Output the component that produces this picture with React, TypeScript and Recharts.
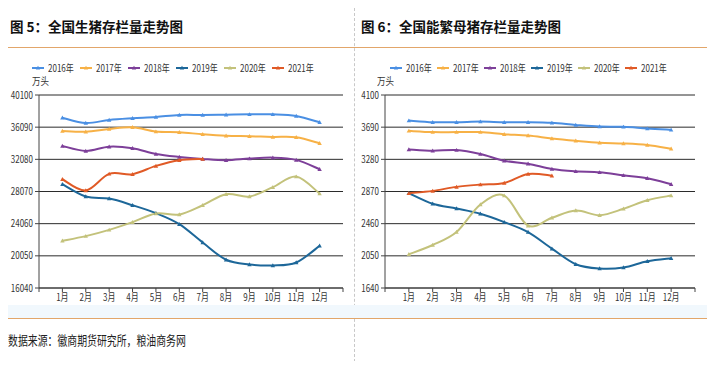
import React from "react";
import { LineChart, Line, XAxis, YAxis, CartesianGrid } from "recharts";

const months = ["1月", "2月", "3月", "4月", "5月", "6月", "7月", "8月", "9月", "10月", "11月", "12月"];
const years = ["2016年", "2017年", "2018年", "2019年", "2020年", "2021年"];
const colors = ["#4a8fe3", "#f7b146", "#7d3f99", "#1d6799", "#c3c27b", "#e05a26"];

// 全国生猪存栏 (万头)
const hog2016 = [37270, 36610, 36990, 37200, 37360, 37610, 37610, 37650, 37690, 37690, 37490, 36700];
const hog2017 = [35620, 35530, 35870, 36080, 35540, 35450, 35210, 35030, 34960, 34870, 34830, 34090];
const hog2018 = [33750, 33130, 33660, 33460, 32750, 32380, 32130, 31970, 32170, 32290, 32010, 30850];
const hog2019 = [28980, 27440, 27190, 26360, 25370, 24000, 21710, 19560, 18970, 18850, 19220, 21300];
const hog2020 = [21930, 22510, 23290, 24250, 25320, 25200, 26360, 27730, 27440, 28610, 29930, 27810];
const hog2021 = [29600, 28190, 30270, 30230, 31260, 31970, 32130];
const hogTicks = [16040, 20050, 24060, 28070, 32080, 36090, 40100];

// 全国能繁母猪存栏 (万头)
const sow2016 = [3774, 3753, 3753, 3761, 3753, 3753, 3745, 3719, 3698, 3694, 3672, 3656];
const sow2017 = [3643, 3627, 3627, 3627, 3601, 3584, 3546, 3516, 3491, 3482, 3462, 3415];
const sow2018 = [3406, 3389, 3398, 3347, 3262, 3224, 3157, 3127, 3114, 3076, 3038, 2962];
const sow2019 = [2848, 2713, 2653, 2586, 2480, 2353, 2142, 1943, 1888, 1901, 1981, 2019];
const sow2020 = [2070, 2188, 2353, 2704, 2818, 2435, 2535, 2628, 2568, 2650, 2759, 2818];
const sow2021 = [2848, 2878, 2929, 2958, 2979, 3094, 3072];
const sowTicks = [1640, 2050, 2460, 2870, 3280, 3690, 4100];

const xTicks = [0, 1, 2, 3, 4, 5, 6, 7, 8, 9, 10, 11, 12, 13];

function buildRows(series: number[][]) {
  return months.map((m, i) => {
    const row: Record<string, number | string | null> = { x: i + 1, month: m };
    series.forEach((s, k) => {
      row["y" + k] = i < s.length ? s[i] : null;
    });
    return row;
  });
}

const hogRows = buildRows([hog2016, hog2017, hog2018, hog2019, hog2020, hog2021]);
const sowRows = buildRows([sow2016, sow2017, sow2018, sow2019, sow2020, sow2021]);

// Catmull-Rom style smoothing similar to spreadsheet smoothed lines
function smoothCurve(context: any) {
  let pts: number[][] = [];
  return {
    areaStart() {},
    areaEnd() {},
    lineStart() {
      pts = [];
    },
    lineEnd() {
      if (!pts.length) return;
      context.moveTo(pts[0][0], pts[0][1]);
      for (let i = 0; i < pts.length - 1; i++) {
        const p0 = pts[i - 1] || pts[i];
        const p1 = pts[i];
        const p2 = pts[i + 1];
        const p3 = pts[i + 2] || p2;
        const t = 6;
        context.bezierCurveTo(
          p1[0] + (p2[0] - p0[0]) / t,
          p1[1] + (p2[1] - p0[1]) / t,
          p2[0] - (p3[0] - p1[0]) / t,
          p2[1] - (p3[1] - p1[1]) / t,
          p2[0],
          p2[1]
        );
      }
    },
    point(x: number, y: number) {
      pts.push([+x, +y]);
    },
  };
}

const FONT = "'Noto Sans CJK SC', 'Noto Sans', sans-serif";

const YTick = (props: any) => {
  const { x, y, payload } = props;
  return (
    <g transform={`translate(${x},${y})`}>
      <text transform="scale(0.8,1)" textAnchor="end" dy={3.5} fontSize={10} fill="#333" fontFamily={FONT}>
        {payload.value}
      </text>
    </g>
  );
};

const XTick = (props: any) => {
  const { x, y, payload } = props;
  const v = payload.value;
  if (v < 1 || v > 12) return null;
  return (
    <g transform={`translate(${x},${y})`}>
      <text transform="scale(0.8,1)" textAnchor="middle" dy={7} fontSize={10} fill="#333" fontFamily={FONT}>
        {months[v - 1]}
      </text>
    </g>
  );
};

const TriDot = (props: any) => {
  const { cx, cy, stroke } = props;
  if (cx == null || cy == null || isNaN(cy)) return null;
  const s = 2.2;
  return <path d={`M${cx},${cy - s} L${cx + s},${cy + s * 0.8} L${cx - s},${cy + s * 0.8} Z`} fill={stroke} stroke="none" />;
};

function Legend6({ left, step }: { left: number; step: number }) {
  return (
    <div style={{ position: "absolute", left: 0, top: 0 }}>
      {years.map((yr, i) => (
        <div key={yr} style={{ position: "absolute", left: left + i * step, top: 62, height: 12, width: 48 }}>
          <svg width={14} height={12} style={{ position: "absolute", left: 0, top: 0 }}>
            <line x1={0} y1={6} x2={12} y2={6} stroke={colors[i]} strokeWidth={2} />
            <path d="M6,3.8 L8.2,7.6 L3.8,7.6 Z" fill={colors[i]} />
          </svg>
          <span
            style={{
              position: "absolute",
              left: 16,
              top: -1,
              fontSize: 10,
              fontFamily: FONT,
              color: "#333",
              whiteSpace: "nowrap",
              transform: "scaleX(0.8)",
              transformOrigin: "left center",
              lineHeight: "14px",
            }}
          >
            {yr}
          </span>
        </div>
      ))}
    </div>
  );
}

function Panel({
  left,
  rows,
  ticks,
  rightMargin,
}: {
  left: number;
  rows: any[];
  ticks: number[];
  rightMargin: number;
}) {
  return (
    <div style={{ position: "absolute", left, top: 0, width: 357, height: 310 }}>
      <LineChart
        width={357}
        height={310}
        data={rows}
        margin={{ top: 95, right: rightMargin, left: 0, bottom: 2 }}
      >
        <CartesianGrid horizontal={true} vertical={false} stroke="#2b2b2b" strokeWidth={1} />
        <XAxis
          dataKey="x"
          type="number"
          domain={[0, 13]}
          ticks={xTicks}
          interval={0}
          height={20}
          tick={<XTick />}
          tickSize={4}
          axisLine={{ stroke: "#444" }}
          tickLine={{ stroke: "#444" }}
        />
        <YAxis
          type="number"
          domain={[ticks[0], ticks[ticks.length - 1]]}
          ticks={ticks}
          interval={0}
          width={39}
          tick={<YTick />}
          tickSize={4}
          axisLine={{ stroke: "#444" }}
          tickLine={{ stroke: "#444" }}
        />
        {[0, 1, 2, 3, 4, 5].map((k) => (
          <Line
            key={k}
            dataKey={"y" + k}
            type={smoothCurve as any}
            stroke={colors[k]}
            strokeWidth={2}
            dot={<TriDot />}
            activeDot={false}
            isAnimationActive={false}
            connectNulls={false}
          />
        ))}
      </LineChart>
    </div>
  );
}

export default function App() {
  return (
    <div
      style={{
        position: "relative",
        margin: -8,
        width: 715,
        height: 369,
        background: "#fff",
        overflow: "hidden",
        fontFamily: FONT,
      }}
    >
      {/* frames */}
      <div style={{ position: "absolute", left: 3, top: 3, width: 706, height: 358, border: "1px dashed #c8c8c8" }} />
      <div style={{ position: "absolute", left: 354, top: 3, width: 0, height: 359, borderLeft: "1px dashed #c8c8c8" }} />
      <div style={{ position: "absolute", left: 4, top: 47, width: 705, height: 1, background: "#e2a66a" }} />
      <div style={{ position: "absolute", left: 4, top: 305, width: 705, height: 13, background: "#f1f8fd" }} />
      <div style={{ position: "absolute", left: 4, top: 318, width: 705, height: 1, background: "#e2a66a" }} />

      {/* titles */}
      <div style={{ position: "absolute", left: 10, top: 16, fontSize: 13.5, fontWeight: 700, color: "#111", whiteSpace: "nowrap", lineHeight: "20px" }}>
        图 5：全国生猪存栏量走势图
      </div>
      <div style={{ position: "absolute", left: 361, top: 16, fontSize: 13.5, fontWeight: 700, color: "#111", whiteSpace: "nowrap", lineHeight: "20px" }}>
        图 6：全国能繁母猪存栏量走势图
      </div>

      <Panel left={0} rows={hogRows} ticks={hogTicks} rightMargin={14} />
      <Panel left={346} rows={sowRows} ticks={sowTicks} rightMargin={8} />

      <Legend6 left={32} step={48} />
      <Legend6 left={390} step={47} />

      <div style={{ position: "absolute", left: 32, top: 74, fontSize: 10, color: "#333", transform: "scaleX(0.85)", transformOrigin: "left", lineHeight: "14px" }}>万头</div>
      <div style={{ position: "absolute", left: 377, top: 74, fontSize: 10, color: "#333", transform: "scaleX(0.85)", transformOrigin: "left", lineHeight: "14px" }}>万头</div>

      <div
        style={{
          position: "absolute",
          left: 8,
          top: 331,
          fontSize: 13,
          color: "#222",
          whiteSpace: "nowrap",
          transform: "scaleX(0.76)",
          transformOrigin: "left",
          lineHeight: "17px",
        }}
      >
        数据来源：徽商期货研究所，粮油商务网
      </div>
    </div>
  );
}
